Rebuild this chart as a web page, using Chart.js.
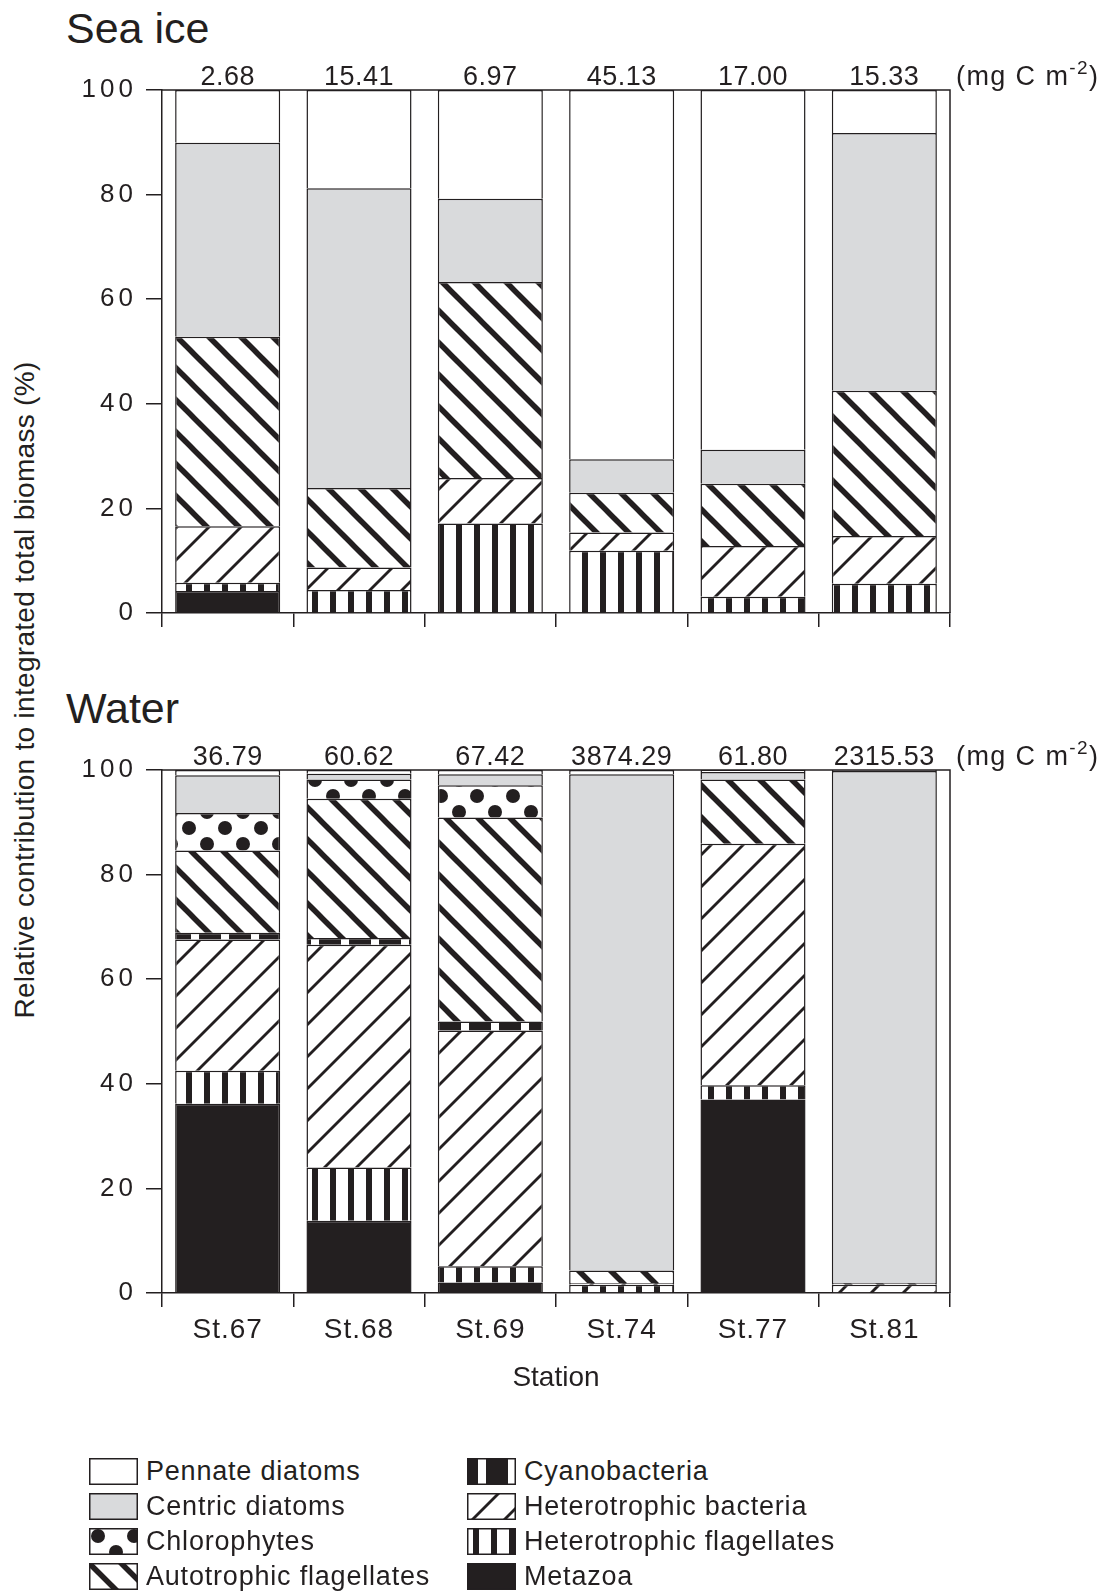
<!DOCTYPE html>
<html>
<head>
<meta charset="utf-8">
<script src="https://cdn.jsdelivr.net/npm/chart.js@4.4.0/dist/chart.umd.min.js"></script>
<style>
    body {
        margin: 0;
        background: #ffffff;
        width: 1107px;
        height: 1591px;
        position: relative;
        overflow: hidden;
        font-family: "Liberation Sans", Arial, Helvetica, sans-serif;
        color: #231f20;
    }
    .panel-title {
        position: absolute;
        left: 66px;
        font-size: 43px;
        line-height: 50px;
        white-space: nowrap;
    }
    #ytitle {
        position: absolute;
        left: -325px;
        top: 674px;
        width: 700px;
        height: 32px;
        line-height: 32px;
        font-size: 28px;
        letter-spacing: 0.3px;
        text-align: center;
        white-space: nowrap;
        transform: rotate(-90deg);
    }
    canvas.chart {
        position: absolute;
        left: 0;
    }
    .item {
        position: absolute;
        height: 27px;
        display: flex;
        align-items: center;
        white-space: nowrap;
    }
    .item canvas {
        display: block;
        margin-right: 8px;
    }
    .item span {
        font-size: 27px;
        letter-spacing: 0.8px;
        line-height: 27px;
    }
</style>
</head>
<body>
<div class="panel-title" style="top:3px">Sea ice</div>
<div class="panel-title" style="top:683px">Water</div>
<div id="ytitle">Relative contribution to integrated total biomass (%)</div>
<canvas class="chart" id="chartIce" width="1107" height="640" style="top:0px"></canvas>
<canvas class="chart" id="chartWater" width="1107" height="760" style="top:660px"></canvas>
<div id="legend"></div>

<script>
const stations = ['St.67', 'St.68', 'St.69', 'St.74', 'St.77', 'St.81'];
const groups = ['Metazoa', 'Heterotrophic flagellates', 'Heterotrophic bacteria', 'Cyanobacteria',
    'Autotrophic flagellates', 'Chlorophytes', 'Centric diatoms', 'Pennate diatoms'];
const legendOrder = ['Pennate diatoms', 'Centric diatoms', 'Chlorophytes', 'Autotrophic flagellates',
    'Cyanobacteria', 'Heterotrophic bacteria', 'Heterotrophic flagellates', 'Metazoa'];
const iceTotals = ['2.68', '15.41', '6.97', '45.13', '17.00', '15.33'];
const waterTotals = ['36.79', '60.62', '67.42', '3874.29', '61.80', '2315.53'];
const yTicks = [0, 20, 40, 60, 80, 100];

// sea ice, % of integrated biomass (bottom to top)
const iceMetazoa   = [4.2, 0, 0, 0, 0, 0];
const iceHetFlag   = [1.6, 4.4, 17.1, 11.9, 3.1, 5.6];
const iceHetBact   = [10.8, 4.3, 8.7, 3.5, 9.7, 9.1];
const iceCyano     = [0, 0, 0, 0, 0, 0];
const iceAutoFlag  = [36.2, 15.2, 37.5, 7.6, 11.9, 27.8];
const iceChloro    = [0, 0, 0, 0, 0, 0];
const iceCentric   = [37.1, 57.3, 15.9, 6.4, 6.5, 49.3];
const icePennate   = [10.1, 18.8, 20.8, 70.6, 68.8, 8.2];

// water column
const waterMetazoa  = [36.2, 13.8, 2.0, 0, 37.0, 0];
const waterHetFlag  = [6.3, 10.2, 3.1, 1.6, 2.7, 0];
const waterHetBact  = [25.1, 42.6, 45.1, 0.3, 46.2, 1.6];
const waterCyano    = [1.3, 1.3, 1.7, 0, 0, 0];
const waterAutoFlag = [15.7, 26.6, 39.0, 2.4, 12.3, 0.3];
const waterChloro   = [7.2, 3.7, 6.2, 0, 0, 0];
const waterCentric  = [7.2, 1.1, 2.1, 94.9, 1.4, 97.9];
const waterPennate  = [1.0, 0.7, 0.8, 0.8, 0.4, 0.2];

const ink = '#231f20';
const FONT = '"Liberation Sans", Arial, Helvetica, sans-serif';

Chart.defaults.font.family = FONT;
Chart.defaults.color = ink;

function tile(w, h, draw)
{
    const c = document.createElement('canvas');
    c.width = w;
    c.height = h;
    const g = c.getContext('2d');
    draw(g, w, h);
    return g.createPattern(c, 'repeat');
}

function makeFill(name)
{
    if (name == 'Pennate diatoms') return '#ffffff';
    if (name == 'Centric diatoms') return '#d9dadc';
    if (name == 'Metazoa') return ink;

    if (name == 'Chlorophytes') {
        return tile(36, 32, function (g, w, h) {
            g.fillStyle = '#fff'; g.fillRect(0, 0, w, h);
            g.fillStyle = ink;
            g.beginPath(); g.arc(9, 8, 7, 0, Math.PI * 2); g.fill();
            g.beginPath(); g.arc(27, 24, 7, 0, Math.PI * 2); g.fill();
        });
    }
    if (name == 'Autotrophic flagellates') {
        // "\" lines, extended past the tile so the joins have no gaps
        return tile(32, 32, function (g, w, h) {
            g.fillStyle = '#fff'; g.fillRect(0, 0, w, h);
            g.strokeStyle = ink; g.lineWidth = 5.5;
            for (let k = -1; k <= 1; k++) {
                g.beginPath(); g.moveTo(k * w - 8, -8); g.lineTo(k * w + w + 8, h + 8); g.stroke();
            }
        });
    }
    if (name == 'Heterotrophic bacteria') {
        return tile(32, 32, function (g, w, h) {
            g.fillStyle = '#fff'; g.fillRect(0, 0, w, h);
            g.strokeStyle = ink; g.lineWidth = 2.8;
            for (let k = -1; k <= 1; k++) {
                g.beginPath(); g.moveTo(k * w - 8, h + 8); g.lineTo(k * w + w + 8, -8); g.stroke();
            }
        });
    }
    if (name == 'Heterotrophic flagellates') {
        return tile(18, 10, function (g, w, h) {
            g.fillStyle = '#fff'; g.fillRect(0, 0, w, h);
            g.fillStyle = ink; g.fillRect(6, 0, 6, h);
        });
    }
    if (name == 'Cyanobacteria') {
        return tile(30, 10, function (g, w, h) {
            g.fillStyle = ink; g.fillRect(0, 0, w, h);
            g.fillStyle = '#fff'; g.fillRect(11, 0, 8, h);
        });
    }
    return '#ffffff';
}

const fills = {};
groups.forEach(function (n) { fills[n] = makeFill(n); });

function buildDatasets(series)
{
    return groups.map(function (name, i) {
        return {
            label: name,
            data: series[i].map(function (v) { return v === 0 ? null : v; }),
            backgroundColor: fills[name],
            borderColor: ink,
            borderWidth: 1.5,
            barPercentage: 0.8,
            categoryPercentage: 1.0
        };
    });
}

// letter spacing for tick labels (the figure's numerals are set wide)
const spacedTicks = {
    id: 'spacedTicks',
    afterLayout(chart, args, opts)
    {
        Object.keys(opts.spacing || {}).forEach(function (id) {
            const s = chart.scales[id];
            if (!s || s._spaced) return;
            const orig = s.drawLabels;
            s.drawLabels = function (area) {
                this.ctx.save();
                this.ctx.letterSpacing = opts.spacing[id];
                orig.call(this, area);
                this.ctx.restore();
            };
            s._spaced = true;
        });
    }
};

const framePlugin = {
    id: 'frame',
    afterDraw(chart)
    {
        const a = chart.chartArea;
        const c = chart.ctx;
        c.save();
        c.strokeStyle = ink;
        c.lineWidth = 1.5;
        c.beginPath();
        c.moveTo(a.left, a.top);
        c.lineTo(a.right, a.top);
        c.lineTo(a.right, a.bottom);
        c.stroke();
        c.restore();
    }
};

const totalsPlugin = {
    id: 'totals',
    afterDraw(chart, args, opts)
    {
        const x = chart.scales.x;
        const a = chart.chartArea;
        const c = chart.ctx;
        const base = a.top - 5.5;
        c.save();
        c.fillStyle = ink;
        c.letterSpacing = '0.5px';
        c.font = '27px ' + FONT;
        c.textAlign = 'center';
        c.textBaseline = 'alphabetic';
        opts.labels.forEach(function (t, i) {
            c.fillText(t, x.getPixelForValue(i), base);
        });

        // unit: (mg C m-2)
        c.letterSpacing = '1.4px';
        c.textAlign = 'left';
        let ux = a.right + 6;
        const part1 = '(mg C m';
        c.fillText(part1, ux, base);
        ux += c.measureText(part1).width;
        c.font = '19px ' + FONT;
        c.fillText('-2', ux, base - 11);
        ux += c.measureText('-2').width;
        c.font = '27px ' + FONT;
        c.fillText(')', ux, base);
        c.restore();
    }
};

function makeChart(id, series, totals, bottomAxis)
{
    const ctx = document.getElementById(id);
    return new Chart(ctx, {
        type: 'bar',
        data: {
            labels: stations,
            datasets: buildDatasets(series)
        },
        options: {
            responsive: false,
            animation: false,
            layout: {
                padding: { top: bottomAxis ? 110 : 90, left: 0, right: 157, bottom: 0 }
            },
            plugins: {
                legend: { display: false },
                tooltip: { enabled: false },
                totals: { labels: totals },
                spacedTicks: { spacing: { y: '4px', x: '1px' } }
            },
            scales: {
                x: {
                    stacked: true,
                    grid: {
                        offset: true,
                        drawOnChartArea: false,
                        tickLength: 14,
                        color: ink,
                        lineWidth: 1.5
                    },
                    border: { color: ink, width: 1.5 },
                    ticks: {
                        display: bottomAxis,
                        color: ink,
                        font: { size: 28 },
                        padding: 6
                    },
                    title: {
                        display: bottomAxis,
                        text: 'Station',
                        color: ink,
                        font: { size: 28 },
                        padding: { top: 0, bottom: 25 }
                    },
                    afterFit: function (scale) {
                        scale.height = bottomAxis ? 127 : 27;
                    }
                },
                y: {
                    stacked: true,
                    min: 0,
                    max: 100,
                    afterBuildTicks: function (scale) {
                        scale.ticks = yTicks.map(function (v) { return { value: v }; });
                    },
                    grid: {
                        drawOnChartArea: false,
                        tickLength: 16,
                        color: ink,
                        lineWidth: 1.5
                    },
                    border: { color: ink, width: 1.5 },
                    ticks: {
                        color: ink,
                        font: { size: 26 },
                        padding: 9
                    },
                    afterFit: function (scale) {
                        scale.width = 162;
                    }
                }
            }
        },
        plugins: [spacedTicks, framePlugin, totalsPlugin]
    });
}

function buildLegend()
{
    const box = document.getElementById('legend');
    legendOrder.forEach(function (name, i) {
        const col = i < 4 ? 0 : 1;
        const row = i % 4;
        const item = document.createElement('div');
        item.className = 'item';
        item.style.left = (col ? 467 : 89) + 'px';
        item.style.top = (1458 + row * 35) + 'px';

        const sw = document.createElement('canvas');
        sw.width = 49;
        sw.height = 27;
        const g = sw.getContext('2d');
        g.fillStyle = fills[name];
        g.fillRect(0, 0, 49, 27);
        g.strokeStyle = ink;
        g.lineWidth = 1.5;
        g.strokeRect(0.75, 0.75, 47.5, 25.5);

        const label = document.createElement('span');
        label.textContent = name;

        item.appendChild(sw);
        item.appendChild(label);
        box.appendChild(item);
    });
}

makeChart('chartIce',
    [iceMetazoa, iceHetFlag, iceHetBact, iceCyano, iceAutoFlag, iceChloro, iceCentric, icePennate],
    iceTotals, false);

makeChart('chartWater',
    [waterMetazoa, waterHetFlag, waterHetBact, waterCyano, waterAutoFlag, waterChloro, waterCentric, waterPennate],
    waterTotals, true);

buildLegend();
</script>
</body>
</html>
